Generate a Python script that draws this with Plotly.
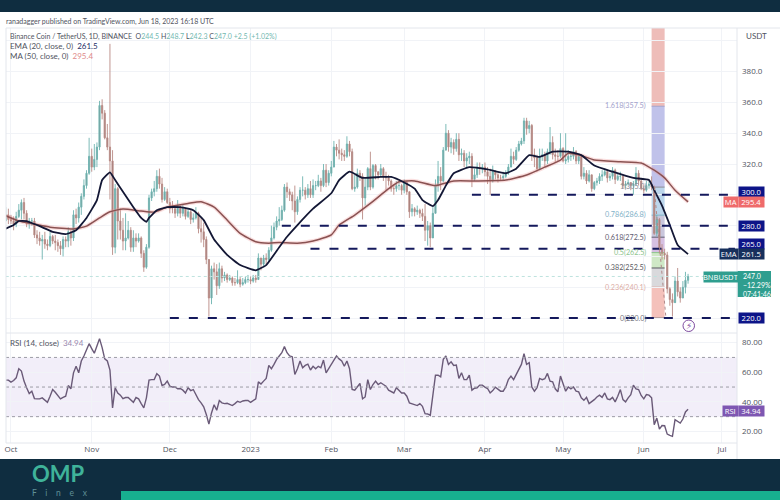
import pandas as pd
import plotly.graph_objects as go
from plotly.subplots import make_subplots

W, H = 780, 500

first_day = "2022-09-29"

# daily candles (Sep 29 2022 -> Jun 18 2023)
opens = [283,287,284,283,281,286,290,295,288,281,
         283,283,274,272,270,271,268,267,273,270,
         269,267,265,271,270,276,272,287,285,292,
         299,306,314,325,318,323,331,358,353,337,
         331,322,266,304,283,277,270,272,277,266,
         272,270,272,262,253,266,298,302,304,312,
         307,297,302,295,291,291,288,292,288,291,
         286,289,284,285,288,278,276,271,258,233,
         252,250,241,252,246,248,245,246,243,243,
         245,242,243,245,245,244,246,245,259,255,
         259,258,264,272,279,283,284,290,305,302,
         300,296,289,297,303,303,300,304,300,306,
         306,309,306,316,308,314,318,331,329,327,
         326,325,333,328,304,305,314,312,298,305,
         317,305,319,315,313,317,312,311,309,304,
         304,306,306,303,308,302,289,291,289,290,
         288,286,277,280,272,288,306,312,309,329,
         340,331,334,330,336,326,327,322,324,325,
         310,313,318,317,318,315,312,309,315,313,
         311,311,312,314,318,325,323,329,333,335,
         348,343,345,326,324,317,325,326,322,328,
         334,326,325,325,330,322,323,325,325,328,
         322,325,312,314,309,313,304,308,309,312,
         313,315,311,312,316,310,312,312,306,307,
         308,306,307,314,309,304,303,306,307,305,
         275,284,265,262,261,239,232,230,244,237,
         233,240,244.5]
highs = [292,291,287,286,289,294,297,298,290,285,
         285,285,277,276,274,276,271,276,274,274,
         271,270,273,273,279,277,290,291,295,301,
         310,316,337,330,333,334,361,362,355,346,
         398,329,307,305,291,285,288,283,279,277,
         275,275,273,264,268,300,304,309,316,317,
         311,305,304,298,296,292,296.6,293,294,291,
         291,290,288,292,289,285,282,273,258,254,
         256,255,256,254,250,249,248,247,246,251,
         247,246,247,248,247,248,248,262,259,261,
         262,266,280,282,286,292,293,307,308,304,
         302,306,299,305,312,305,307,309,310,309,
         313,311,320,320,316,322,335,333,336,330,
         329,338,335,330,313,317,316,314,311,318,
         328,320,320,315,320,318,315,313,310,307,
         309,309,307,310,309,302,294,292,293,291,
         291,294,283,282,292,310,322,318,331,346,
         342,337,336,340,340,330,329,327,328,327,
         317,321,321,320,321,318,317,319,316,314,
         313,315,316,320,330,328,331,335,337,350,
         350,348,346,330,326,330,330,328,330,344,
         338,330,329,340,331,340,329,328,331,329,
         327,325,318,316,316,313,309,311,314,316,
         317,316,314,318,317,314,315,313,309,310,
         308,309,318,316,311,306,309,309,312,306,
         287,285,268,265,263,240,236,247,252.5,240,
         244,250,248.7]
lows = [283,281,281,277,279,285,284,284,279,278,
        280,272,268,267,258,265,264,266,268,264,
        263,261,260,266,266,267,270,281,282,287,
        297,304,313,315,316,318,329,349,336,329,
        297,261,262,271,271,264,264,271,263,263,
        266,269,259,250,252,265,296,299,302,304,
        295,296,294,288,288,285,286,285,286,284,
        285,281,282,284,275,269,266,255,221,229,
        245,235,239,243,244,243,244,241,241,242,
        240,241,242,243,242,243,243,245,251,253,
        255,257,263,271,277,280,283,289,298,296,
        290,282,287,295,299,297,298,298,298,303,
        305,302,305,305,306,312,318,325,323,322,
        322,324,325,303,302,304,309,284,293,303,
        303,304,310,310,312,309,303,306,302,300,
        302,303,300,301,300,285,286,286,287,285,
        283,270,267,266,275,288,302,303,308,329,
        328,327,326,328,322,322,318,318,320,305,
        309,311,313,314,312,307,300,308,310,308,
        309,309,311,313,318,320,322,328,332,333,
        339,340,322,318,315,316,322,318,320,326,
        323,321,322,324,321,320,321,322,323,320,
        320,310,310,307,308,302,303,306,307,309,
        312,308,309,310,307,309,309,304,304,306,
        303,300,306,306,303,301,302,304,303,274,
        273,262,258,258,236,228,221,231,234,230,
        233,236,242.3]
closes = [287,284,283,281,286,290,295,288,281,283,
          283,274,272,270,271,268,267,273,270,269,
          267,265,271,270,276,272,287,285,292,299,
          306,314,325,318,323,331,358,353,337,331,
          322,266,304,283,277,270,272,277,266,272,
          270,272,262,253,266,298,302,304,312,307,
          297,302,295,291,291,288,292,288,291,286,
          289,284,285,288,278,276,271,258,233,252,
          250,241,252,246,248,245,246,243,243,245,
          242,243,245,245,244,246,245,259,255,259,
          258,264,272,279,283,284,290,305,302,300,
          296,289,297,303,303,300,304,300,306,306,
          309,306,316,308,314,318,331,329,327,326,
          325,333,328,304,305,314,312,298,305,317,
          305,319,315,313,317,312,311,309,304,304,
          306,306,303,308,302,289,291,289,290,288,
          286,277,280,272,288,306,312,309,329,340,
          331,334,330,336,326,327,322,324,325,310,
          313,318,317,318,315,312,309,315,313,311,
          311,312,314,318,325,323,329,333,335,348,
          343,345,326,324,317,325,326,322,328,334,
          326,325,325,330,322,323,325,325,328,322,
          325,312,314,309,313,304,308,309,312,313,
          315,311,312,316,310,312,312,306,307,308,
          306,307,314,309,304,303,306,307,305,275,
          284,265,262,261,239,232,230,244,237,233,
          240,244.5,247]

ema_dates = ["2022-09-29","2022-10-02","2022-10-04","2022-10-07","2022-10-12","2022-10-17","2022-10-22",
             "2022-10-26","2022-10-30","2022-11-03","2022-11-05","2022-11-08","2022-11-10","2022-11-13",
             "2022-11-17","2022-11-20","2022-11-22","2022-11-23","2022-11-26","2022-11-30","2022-12-05",
             "2022-12-10","2022-12-14","2022-12-18","2022-12-23","2022-12-28","2023-01-03","2023-01-07",
             "2023-01-12","2023-01-15","2023-01-19","2023-01-25","2023-02-01","2023-02-04","2023-02-08",
             "2023-02-13","2023-02-20","2023-02-24","2023-03-01","2023-03-05","2023-03-08","2023-03-12",
             "2023-03-14","2023-03-17","2023-03-20","2023-03-26","2023-04-02","2023-04-09","2023-04-13",
             "2023-04-18","2023-04-22","2023-04-27","2023-05-03","2023-05-08","2023-05-13","2023-05-20",
             "2023-05-28","2023-06-03","2023-06-05","2023-06-08","2023-06-11","2023-06-14","2023-06-18"]
ema_values = [278,280.4,283,283,279.7,276,274.5,
              277,285,296.6,309.6,314.6,309.6,302,
              292,285,282.5,285,290,292,292,
              290,283.6,271,261,254.4,251,254.4,
              266,272.8,280.4,291,301,309.6,315,
              311,311.6,311.6,308,304,296.6,292.7,
              296.6,306,314,318,316.5,314,317,
              325.8,324.6,328,328,325.8,319,315,
              311,309.6,303,293,280.4,267.4,261.5]

ma_dates = ["2022-09-29","2022-10-04","2022-10-10","2022-10-16","2022-10-25","2022-10-30","2022-11-04",
            "2022-11-08","2022-11-13","2022-11-20","2022-11-25","2022-11-30","2022-12-08","2022-12-13",
            "2022-12-18","2022-12-23","2022-12-28","2023-01-03","2023-01-08","2023-01-12","2023-01-19",
            "2023-01-25","2023-02-01","2023-02-04","2023-02-10","2023-02-16","2023-02-23","2023-02-27",
            "2023-03-05","2023-03-13","2023-03-20","2023-03-29","2023-04-09","2023-04-17","2023-04-24",
            "2023-04-30","2023-05-03","2023-05-08","2023-05-13","2023-05-23","2023-05-31","2023-06-03",
            "2023-06-05","2023-06-09","2023-06-13","2023-06-18"]
ma_values = [286.4,283,281,279,277.8,279.7,285,
             289,290.8,289.5,288.8,292,294.4,295.5,
             292,283.6,275,269.5,268.6,269,268.6,
             270,274,280.4,286.9,294.4,304,308.5,
             309,306,309,309,309.6,312.9,318,
             322.6,327,325.5,322.6,321.5,320.6,318,
             316,311,303,295.4]

rsi_values = [54.7,54.7,53.3,54.4,56.2,62.4,60.8,54,49.5,45.6,
              47.2,42.2,42,42,42.7,40.9,39.7,43.8,48.3,46.5,
              44.5,42,43,43.8,51,48.8,59.6,64,59.6,67.6,
              71,75.5,79.3,76,72.8,77.7,82.7,76.6,69,67.6,
              61.5,35.9,49.5,46,44.5,42.2,42.9,42.9,41,39.7,
              42.9,42,38.8,35.9,42.7,54.7,55,55,59,57.4,
              51,51.7,54,50.6,50,50,48.8,49,47.9,46,
              49.5,47.6,48.3,45,41.5,39.3,36.6,31.4,25,32.5,
              38,34.3,40.9,39.3,38.8,39,38,37.5,38.8,40.4,
              39.7,40.6,40.9,40.9,39.7,40.6,42,53.5,52,54,
              55.8,64.6,62.4,65.3,68.7,71,73.2,77.3,73.2,71,
              70.5,58.5,62.4,67.6,63,64.6,65.5,61.5,64,62.4,
              64,63,68.2,59.6,62.4,65.3,68.2,71,69,67.6,
              64,67.6,62.4,48.3,47.9,50,52.4,42,43.3,55,
              48.3,51.7,54,51.7,52.9,51.7,50.6,47.9,47.2,46,
              49.5,47.9,46,46,43.8,39.3,38.6,37.9,37.5,38.8,
              37,32,31.8,30.9,46,58,58,56.9,68.7,71,
              65.3,67,64.6,64.8,55.8,59.6,55,55,58,47.9,
              49.2,49.5,51.3,51.3,50,49,46,47.6,49.9,48.8,
              47.2,47.2,50,55,57.4,55,58.5,62,65.3,72.5,
              65.3,66.4,50,47.2,49.5,55.8,55,55.6,59.2,54,
              53.5,48.8,46.7,57.4,51.7,47.2,50,48.8,50,47.2,
              46.7,42.7,41,43,38.8,40,41.5,43.3,44.5,43,
              46,42,41.5,43,40,43.8,48.3,41.5,40,42.7,
              44.9,51.3,48.8,48.3,44.3,42,44.9,44.5,42.7,24.6,
              29,21.6,24,23.9,18.2,17.3,16.7,28,26.8,25.7,
              28.4,33.2,34.94]

price_ticks = [220,240,260,280,300,320,340,360,380,400]
price_labels = ["","","","","","320.0","340.0","360.0","380.0",""]
rsi_ticks = [20,40,60,80]
rsi_labels = ["20.00","40.00","60.00","80.00"]
rsi_bands = [30,50,70]
month_ticks = ["2022-10-01","2022-11-01","2022-12-01","2023-01-01","2023-02-01","2023-03-01",
               "2023-04-01","2023-05-01","2023-06-01","2023-07-01"]
month_labels = ["Oct","Nov","Dec","2023","Feb","Mar","Apr","May","Jun","Jul"]

# horizontal support / resistance levels and where each one starts
level_prices = [300,280,265,220]
level_starts = ["2023-03-27","2023-01-13","2023-01-24","2022-12-01"]
level_end = "2023-07-06"

# fib retracement
fib_ratios = ["0","0.236","0.382","0.5","0.618","0.786","1","1.618"]
fib_prices = [220,240.1,252.5,262.5,272.5,286.8,305,357.5]
fib_text_colors = ["#77777f","#dcaea6","#5a5a62","#8cc48c","#5f5d72","#7fb2c8","#8c8c96","#a3a3cc"]
fib_fills = ["#f4c1bb","#d9d9dc","#cfe8c6","#d6c0e2","#c9c6dc","#bcd6ec","#c0c2ea"]
fib_start = "2023-06-04"
fib_end = "2023-06-09"
fib_top_fill = "#eebdb9"
fib_line_x = ["2023-06-05","2023-06-09 12:00"]
fib_line_y = [305,220]

days = pd.date_range(first_day, periods=len(closes))
PRICE_RANGE = [210.3,408.3]
RSI_RANGE = [12.2,86.5]
X_RANGE = ["2022-09-29 02:00","2023-07-06 19:00"]
PLOT_L, PLOT_R = 6, 737


def py(v):
    return 1 - v / H


def px(v):
    return v / W


fig = make_subplots(rows=2, cols=1, shared_xaxes=True)

fig.add_trace(go.Candlestick(x=days, open=opens, high=highs, low=lows, close=closes,
                             increasing=dict(line=dict(color="#6db3b0", width=0.9), fillcolor="#7d9a9b"),
                             decreasing=dict(line=dict(color="#b98a85", width=0.9), fillcolor="#9a7a78"),
                             whiskerwidth=0, showlegend=False), row=1, col=1)

# MA has a pale pink glow in the picture
fig.add_trace(go.Scatter(x=ma_dates, y=ma_values, mode="lines",
                         line=dict(color="rgba(240,150,150,0.3)", width=4, shape="spline", smoothing=0.5),
                         showlegend=False), row=1, col=1)
fig.add_trace(go.Scatter(x=ma_dates, y=ma_values, mode="lines",
                         line=dict(color="#8a5252", width=1.5, shape="spline", smoothing=0.5),
                         showlegend=False), row=1, col=1)
fig.add_trace(go.Scatter(x=ema_dates, y=ema_values, mode="lines",
                         line=dict(color="#131735", width=1.8, shape="spline", smoothing=0.4),
                         showlegend=False), row=1, col=1)

fig.add_trace(go.Scatter(x=[first_day, level_end], y=[closes[-1], closes[-1]], mode="lines",
                         line=dict(color="#bfe3df", width=1, dash="dot"), showlegend=False), row=1, col=1)

for price, start in zip(level_prices, level_starts):
    fig.add_trace(go.Scatter(x=[start, level_end], y=[price, price], mode="lines",
                             line=dict(color="#14195c", width=2, dash="9px,10px"), showlegend=False), row=1, col=1)

fig.add_trace(go.Scatter(x=fib_line_x, y=fib_line_y, mode="lines",
                         line=dict(color="#b08a8a", width=1, dash="3px,3px"), showlegend=False), row=1, col=1)

fig.add_trace(go.Scatter(x=days, y=rsi_values, mode="lines", line=dict(color="#6a5a78", width=1.4),
                         showlegend=False), row=2, col=1)

shapes = []
# fib colour bands
shapes.append(dict(type="rect", xref="x", yref="y", x0=fib_start, x1=fib_end, y0=fib_prices[-1], y1=PRICE_RANGE[1],
                   fillcolor=fib_top_fill, line_width=0, layer="below"))
for i, fill in enumerate(fib_fills):
    shapes.append(dict(type="rect", xref="x", yref="y", x0=fib_start, x1=fib_end,
                       y0=fib_prices[i], y1=fib_prices[i + 1], fillcolor=fill, line_width=0, layer="below"))
for price, col in zip(fib_prices, fib_text_colors):
    shapes.append(dict(type="line", xref="x", yref="y", x0=fib_start, x1=fib_end, y0=price, y1=price,
                       line=dict(color=col, width=1), layer="below"))

# RSI band
shapes.append(dict(type="rect", xref="x2 domain", yref="y2", x0=0, x1=1, y0=rsi_bands[0], y1=rsi_bands[-1],
                   fillcolor="#f2eef9", line_width=0, layer="below"))
for v in rsi_bands:
    shapes.append(dict(type="line", xref="x2 domain", yref="y2", x0=0, x1=1, y0=v, y1=v,
                       line=dict(color="#9c9ca6", width=1, dash="3px,3px")))

# page furniture
for x0, x1, y0, y1, col in [(0, W, 0, 12, "#0f2d40"), (0, W, 459, 500, "#0f2d40"), (121, W, 491, 500, "#17b08f"),
                            (737.5, 771, 271, 297, "#2f9e8f")]:
    shapes.append(dict(type="rect", xref="paper", yref="paper", x0=px(x0), x1=px(x1), y0=py(y1), y1=py(y0),
                       fillcolor=col, line_width=0))
for x0, x1, y0, y1 in [(PLOT_L, W, 28, 28), (PLOT_L, PLOT_L, 28, 443), (PLOT_L, PLOT_R, 333, 333),
                       (PLOT_L, PLOT_R, 443, 443), (PLOT_R, PLOT_R, 28, 459)]:
    shapes.append(dict(type="line", xref="paper", yref="paper", x0=px(x0), x1=px(x1), y0=py(y0), y1=py(y1),
                       line=dict(color="#e3e6ec", width=1)))
# marker under the last candle
shapes.append(dict(type="circle", xref="paper", yref="paper", x0=px(683), x1=px(694.5), y0=py(331.5), y1=py(320),
                   line=dict(color="#7d4a9e", width=1)))

FONT = "Open Sans"
TEXT_FONT = "Lato"
TXT = "#50535e"
annotations = []


def label(text, x, y, size=8, color=TXT, anchor="left", family=TEXT_FONT):
    # plotly pads annotations a little, pull left aligned ones back
    xpos = x - 1.5 if anchor == "left" else x
    annotations.append(dict(text=text, xref="paper", yref="paper", x=px(xpos), y=py(y), xanchor=anchor, yanchor="middle",
                            showarrow=False, font=dict(family=family, size=size, color=color), borderpad=0))


def tag(text, x0, x1, y, bg, height=10, color="#ffffff"):
    annotations.append(dict(text=text, xref="paper", yref="paper", x=px(x0), y=py(y), xanchor="left", yanchor="middle",
                            width=x1 - x0, height=height, align="center", showarrow=False, bgcolor=bg, borderpad=0,
                            font=dict(family=FONT, size=7.6, color=color)))


label("ranadagger published on TradingView.com, Jun 18, 2023 16:18 UTC", 6, 21.5, size=7)
teal = "#73b8b0"
label(f"Binance Coin / TetherUS, 1D, BINANCE  O<span style='color:{teal}'>{opens[-1]}</span>"
      f" H<span style='color:{teal}'>{highs[-1]}</span> L<span style='color:{teal}'>{lows[-1]}</span>"
      f" C<span style='color:{teal}'>{closes[-1]:.1f}</span>"
      f" <span style='color:{teal}'>+2.5 (+1.02%)</span>", 10, 36.5, size=7)
label(f"EMA (20, close, 0)  <span style='color:#1d2d66'>{ema_values[-1]}</span>", 10, 46.5)
label(f"MA (50, close, 0)  <span style='color:#e08a8a'>{ma_values[-1]}</span>", 10, 56.5)
label(f"RSI (14, close)  <span style='color:#9a8ab0'>{rsi_values[-1]}</span>", 10, 342.5)
label("USDT", 746, 36, size=8)

# fib labels
fib_y = [318, 287, 267.5, 252, 237, 214.5, 186.5, 106]
for ratio, price, col, y in zip(fib_ratios, fib_prices, fib_text_colors, fib_y):
    label(f"{ratio}({price:.1f})", 647, y, size=7.2, color=col, anchor="right")

# right hand scale tags
navy = "#0d1488"
tag("300.0", 737.5, 762, 192, navy)
tag("MA", 723, 736.5, 202, "#ef6b6b")
tag("295.4", 737.5, 762, 202, "#ef6b6b")
tag("280.0", 737.5, 762, 225.5, navy)
tag("265.0", 737.5, 762, 244, navy)
tag("EMA", 719, 736.5, 254, "#17305c")
tag("261.5", 737.5, 762, 254, "#17305c")
tag("220.0", 737.5, 762, 318, navy)
tag("BNBUSDT", 703, 736.5, 276.5, "#2f9e8f")
label(f"{closes[-1]:.1f}", 743, 275.5, size=7, color="#ffffff")
label("−12.29%", 743, 284.5, size=7, color="#ffffff")
label("07:41:46", 743, 293.5, size=7, color="#ffffff")
tag("RSI", 722, 736.5, 410.5, "#7e57b2")
tag("34.94", 737.5, 762, 410.5, "#7e57b2")

label("<b>⚡</b>", 688.8, 325.7, size=9, color="#7d4a9e", anchor="center", family="DejaVu Sans")

# logo
label("<b>OMP</b>", 32, 473.5, size=22, color="#3fb39a", family="Lato")
label("F\u00a0\u00a0\u00a0\u00a0i\u00a0\u00a0\u00a0\u00a0n\u00a0\u00a0\u00a0\u00a0e\u00a0\u00a0\u00a0\u00a0x",
      32.5, 492.5, size=8.5, color="#5f8f97", family="Lato")

fig.update_layout(width=W, height=H, margin=dict(l=0, r=0, t=0, b=0), paper_bgcolor="#ffffff", plot_bgcolor="#ffffff",
                  shapes=shapes, annotations=annotations, showlegend=False,
                  font=dict(family=FONT, size=8, color=TXT), boxgap=0.35)
fig.update_xaxes(range=X_RANGE, tickvals=month_ticks, showgrid=True, gridcolor="#f1f3f7", gridwidth=1, zeroline=False,
                 rangeslider_visible=False, ticks="", showline=False)
tick_font = dict(size=8, color=TXT, family=FONT)
fig.update_layout(xaxis=dict(domain=[px(PLOT_L), px(PLOT_R)], showticklabels=False),
                  xaxis2=dict(domain=[px(PLOT_L), px(PLOT_R)], ticktext=month_labels, tickvals=month_ticks,
                              tickfont=tick_font, ticklen=0),
                  yaxis=dict(domain=[py(333), py(28)], range=PRICE_RANGE, side="right", tickvals=price_ticks,
                             ticktext=price_labels, gridcolor="#f1f3f7", zeroline=False, ticklabelstandoff=4,
                             tickfont=tick_font),
                  yaxis2=dict(domain=[py(443), py(333)], range=RSI_RANGE, side="right", tickvals=rsi_ticks,
                              ticktext=rsi_labels, gridcolor="#f1f3f7", zeroline=False, ticklabelstandoff=4,
                              tickfont=tick_font))

fig.write_html("out.html", config={"displayModeBar": False}, post_script="document.body.style.margin='0'")
